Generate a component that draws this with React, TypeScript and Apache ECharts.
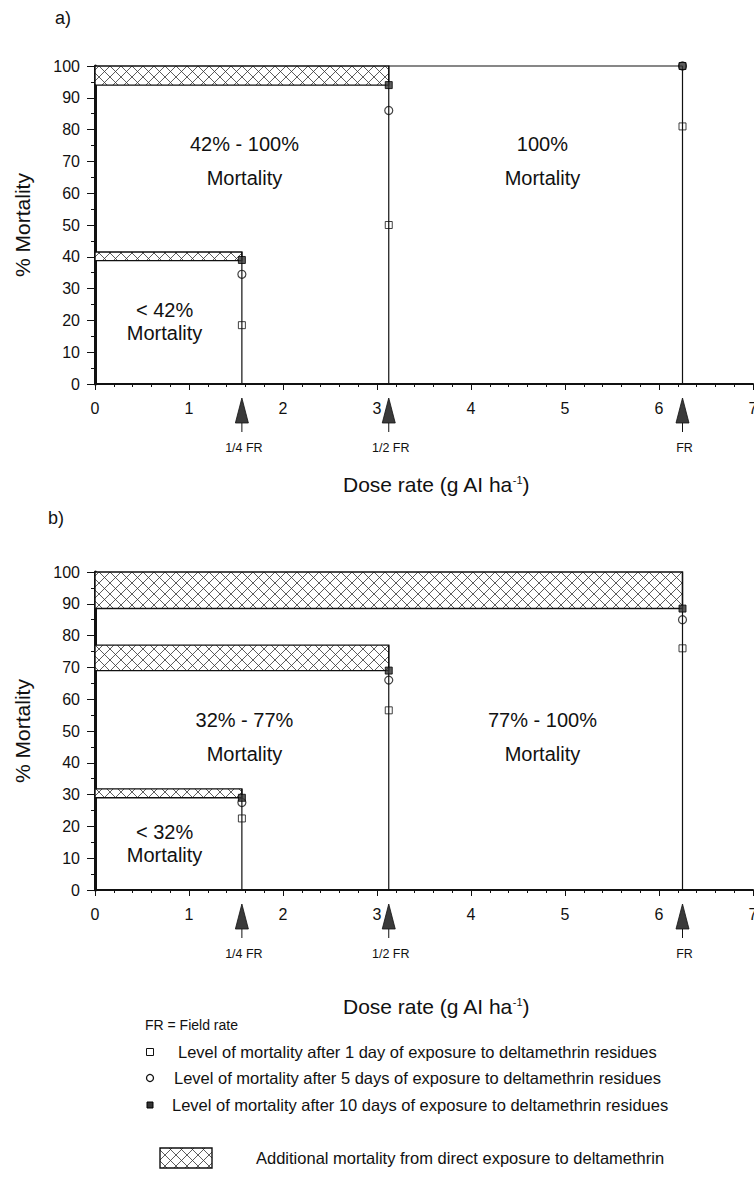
import React, { useEffect, useRef } from "react";
import * as echarts from "echarts";

const FONT = "'Liberation Sans', Arial, Helvetica, sans-serif";
const INK = "#111";

// Dose rates (g AI/ha): 1/4 FR, 1/2 FR, FR
const doses = [1.5625, 3.125, 6.25];
const frLabels = ["1/4 FR", "1/2 FR", "FR"];

// Panel a) mortality (%)
const day1A = [18.5, 50, 81];
const day5A = [34.5, 86, 100];
const day10A = [39, 94, 100];
// zone tops at each dose (vertical boundary heights)
const zoneTopA = [41.5, 100, 100];
// hatched bands: [xFrom, xTo, yLow, yHigh]
const bandsA = [
  [0, 1.5625, 38.8, 41.5],
  [0, 3.125, 94, 100],
];
// extra horizontal boundaries: [xFrom, xTo, y]
const hLinesA = [[3.125, 6.25, 100]];
const zoneTextA = ["42% - 100%\nMortality", "100%\nMortality", "< 42%\nMortality"];
const zoneTextXA = [1.59, 4.76, 0.74];
const zoneTextYA = [70, 70, 19.5];

// Panel b) mortality (%)
const day1B = [22.5, 56.5, 76];
const day5B = [27.5, 66, 85];
const day10B = [29, 69, 88.5];
const zoneTopB = [31.8, 77, 100];
const bandsB = [
  [0, 1.5625, 29, 31.8],
  [0, 3.125, 69, 77],
  [0, 6.25, 88.5, 100],
];
const hLinesB: number[][] = [];
const zoneTextB = ["32% - 77%\nMortality", "77% - 100%\nMortality", "< 32%\nMortality"];
const zoneTextXB = [1.59, 4.76, 0.74];
const zoneTextYB = [48, 48, 14.5];

const legendTexts = [
  "Level of mortality after 1 day of exposure to deltamethrin residues",
  "Level of mortality after 5 days of exposure to deltamethrin residues",
  "Level of mortality after 10 days of exposure to deltamethrin residues",
];

function hatchLines(x0: number, y0: number, x1: number, y1: number, s: number) {
  const out: any[] = [];
  const st = { stroke: "#333", lineWidth: 0.8 };
  for (let c = Math.ceil((x0 - y1) / s) * s; c <= x1 - y0; c += s) {
    const xa = Math.max(x0, y0 + c);
    const xb = Math.min(x1, y1 + c);
    if (xb > xa) out.push({ type: "line", shape: { x1: xa, y1: xa - c, x2: xb, y2: xb - c }, style: st, silent: true });
  }
  for (let c = Math.ceil((x0 + y0) / s) * s; c <= x1 + y1; c += s) {
    const xa = Math.max(x0, c - y1);
    const xb = Math.min(x1, c - y0);
    if (xb > xa) out.push({ type: "line", shape: { x1: xa, y1: c - xa, x2: xb, y2: c - xb }, style: st, silent: true });
  }
  return out;
}

function hatchBox(x0: number, y0: number, x1: number, y1: number) {
  const left = Math.min(x0, x1), right = Math.max(x0, x1);
  const top = Math.min(y0, y1), bottom = Math.max(y0, y1);
  return {
    type: "group",
    children: [
      { type: "rect", shape: { x: left, y: top, width: right - left, height: bottom - top }, style: { fill: "#fff" } },
      ...hatchLines(left, top, right, bottom, 11),
      {
        type: "rect",
        shape: { x: left, y: top, width: right - left, height: bottom - top },
        style: { fill: "none", stroke: INK, lineWidth: 1.4 },
      },
    ],
  };
}

function mkX(g: number, nameGap: number) {
  return {
    type: "value",
    gridIndex: g,
    min: 0,
    max: 7,
    interval: 1,
    axisLine: { show: true, onZero: false, lineStyle: { color: INK, width: 2 } },
    axisTick: { show: true, length: 6, lineStyle: { color: INK, width: 1 } },
    minorTick: { show: true, splitNumber: 5, length: 3, lineStyle: { color: INK, width: 1 } },
    splitLine: { show: false },
    axisLabel: { fontSize: 16, color: INK, margin: 16, fontFamily: FONT },
    name: "Dose rate (g AI ha{sup|-1})",
    nameLocation: "middle",
    nameGap,
    nameTextStyle: {
      fontSize: 21,
      color: INK,
      fontFamily: FONT,
      padding: [0, 0, 0, 24],
      rich: { sup: { fontSize: 11, verticalAlign: "top", lineHeight: 21, fontFamily: FONT, color: INK } },
    },
  };
}

function mkY(g: number) {
  return {
    type: "value",
    gridIndex: g,
    min: 0,
    max: 100,
    interval: 10,
    axisLine: { show: true, onZero: false, lineStyle: { color: INK, width: 3 } },
    axisTick: { show: true, length: 8, lineStyle: { color: INK, width: 1 } },
    minorTick: { show: true, splitNumber: 2, length: 4, lineStyle: { color: INK, width: 1 } },
    splitLine: { show: false },
    axisLabel: { fontSize: 16, color: INK, margin: 15, fontFamily: FONT },
    name: "% Mortality",
    nameLocation: "middle",
    nameGap: 62,
    nameRotate: 90,
    nameTextStyle: { fontSize: 21, color: INK, fontFamily: FONT },
  };
}

function panelSeries(
  g: number,
  bands: number[][],
  zoneTop: number[],
  hLines: number[][],
  d1: number[],
  d5: number[],
  d10: number[],
  texts: string[],
  tx: number[],
  ty: number[]
) {
  const axes = { xAxisIndex: g, yAxisIndex: g };
  const segs = [
    ...doses.map((d, i) => [d, 0, d, zoneTop[i]]),
    ...hLines.map((h) => [h[0], h[2], h[1], h[2]]),
  ];
  return [
    {
      type: "custom",
      ...axes,
      z: 2,
      data: bands,
      encode: { x: [0, 1], y: [2, 3] },
      renderItem: (_p: any, api: any) => {
        const a = api.coord([api.value(0), api.value(3)]);
        const b = api.coord([api.value(1), api.value(2)]);
        return hatchBox(a[0], a[1], b[0], b[1]);
      },
    },
    {
      type: "custom",
      ...axes,
      z: 3,
      data: segs,
      encode: { x: [0, 2], y: [1, 3] },
      renderItem: (_p: any, api: any) => {
        const a = api.coord([api.value(0), api.value(1)]);
        const b = api.coord([api.value(2), api.value(3)]);
        return { type: "line", shape: { x1: a[0], y1: a[1], x2: b[0], y2: b[1] }, style: { stroke: INK, lineWidth: 1.2 } };
      },
    },
    {
      type: "custom",
      ...axes,
      z: 3,
      data: doses.map((d, i) => [d, 0, i]),
      encode: { x: 0, y: 1 },
      clip: false,
      renderItem: (_p: any, api: any) => {
        const c = api.coord([api.value(0), api.value(1)]);
        const x = c[0], y = c[1];
        return {
          type: "group",
          children: [
            { type: "polygon", shape: { points: [[x, y + 14], [x - 6.5, y + 39], [x + 6.5, y + 39]] }, style: { fill: "#3a3a3a", stroke: "#111", lineWidth: 0.8 } },
            { type: "line", shape: { x1: x, y1: y + 39, x2: x, y2: y + 48 }, style: { stroke: INK, lineWidth: 1 } },
            {
              type: "text",
              x: x + 2,
              y: y + 64,
              style: { text: frLabels[api.value(2)], fontSize: 12.5, fontFamily: FONT, fill: INK, align: "center", verticalAlign: "middle" },
            },
          ],
        };
      },
    },
    {
      type: "custom",
      ...axes,
      z: 4,
      data: tx.map((x, i) => [x, ty[i], i]),
      encode: { x: 0, y: 1 },
      renderItem: (_p: any, api: any) => {
        const c = api.coord([api.value(0), api.value(1)]);
        const idx = api.value(2);
        return {
          type: "text",
          x: c[0],
          y: c[1],
          style: {
            text: texts[idx],
            fontSize: 20,
            fontFamily: FONT,
            fill: INK,
            align: "center",
            verticalAlign: "middle",
            lineHeight: idx === 2 ? 23 : 34,
          },
        };
      },
    },
    {
      type: "scatter",
      ...axes,
      z: 5,
      symbol: "rect",
      symbolSize: 7,
      itemStyle: { color: "rgba(0,0,0,0)", borderColor: INK, borderWidth: 1 },
      data: doses.map((d, i) => [d, d1[i]]),
    },
    {
      type: "scatter",
      ...axes,
      z: 6,
      symbol: "circle",
      symbolSize: 8,
      itemStyle: { color: "rgba(0,0,0,0)", borderColor: INK, borderWidth: 1.2 },
      data: doses.map((d, i) => [d, d5[i]]),
    },
    {
      type: "scatter",
      ...axes,
      z: 7,
      symbol: "rect",
      symbolSize: 7,
      itemStyle: { color: "#333", borderColor: "#000", borderWidth: 1 },
      data: doses.map((d, i) => [d, d10[i]]),
    },
  ];
}

export default function App() {
  const ref = useRef<HTMLDivElement>(null);
  useEffect(() => {
    if (!ref.current) return;
    const chart = echarts.init(ref.current, undefined, { renderer: "svg" });
    const legendY = [1052, 1078, 1105];
    const legendTextX = [178, 174, 172];
    const mx = 150;
    const graphic: any[] = [
      { type: "text", left: 55, top: 9, style: { text: "a)", fontSize: 18, fontFamily: FONT, fill: INK } },
      { type: "text", left: 48, top: 509, style: { text: "b)", fontSize: 18, fontFamily: FONT, fill: INK } },
      { type: "text", x: 145, y: 1025, style: { text: "FR = Field rate", fontSize: 14, fontFamily: FONT, fill: INK, verticalAlign: "middle" } },
      { type: "rect", shape: { x: mx - 3.5, y: legendY[0] - 3.5, width: 7, height: 7 }, style: { fill: "none", stroke: INK, lineWidth: 1 } },
      { type: "circle", shape: { cx: mx, cy: legendY[1], r: 3.5 }, style: { fill: "none", stroke: INK, lineWidth: 1.3 } },
      { type: "rect", shape: { x: mx - 3, y: legendY[2] - 3, width: 6, height: 6 }, style: { fill: "#333", stroke: "#000", lineWidth: 1 } },
      ...legendTexts.map((t, i) => ({
        type: "text",
        x: legendTextX[i],
        y: legendY[i],
        style: { text: t, fontSize: 16.5, fontFamily: FONT, fill: INK, verticalAlign: "middle" },
      })),
      hatchBox(160, 1148, 212, 1168),
      {
        type: "text",
        x: 256,
        y: 1158,
        style: { text: "Additional mortality from direct exposure to deltamethrin", fontSize: 16.5, fontFamily: FONT, fill: INK, verticalAlign: "middle" },
      },
    ];
    chart.setOption({
      animation: false,
      backgroundColor: "#fff",
      textStyle: { fontFamily: FONT },
      grid: [
        { left: 95, top: 66, width: 658, height: 318 },
        { left: 95, top: 572, width: 658, height: 318 },
      ],
      xAxis: [mkX(0, 90), mkX(1, 106)],
      yAxis: [mkY(0), mkY(1)],
      series: [
        ...panelSeries(0, bandsA, zoneTopA, hLinesA, day1A, day5A, day10A, zoneTextA, zoneTextXA, zoneTextYA),
        ...panelSeries(1, bandsB, zoneTopB, hLinesB, day1B, day5B, day10B, zoneTextB, zoneTextXB, zoneTextYB),
      ],
      graphic,
    });
    return () => chart.dispose();
  }, []);
  return (
    <div style={{ position: "absolute", left: 0, top: 0, width: 754, height: 1180, overflow: "hidden", background: "#fff" }}>
      <div ref={ref} style={{ width: 772, height: 1180 }} />
    </div>
  );
}
